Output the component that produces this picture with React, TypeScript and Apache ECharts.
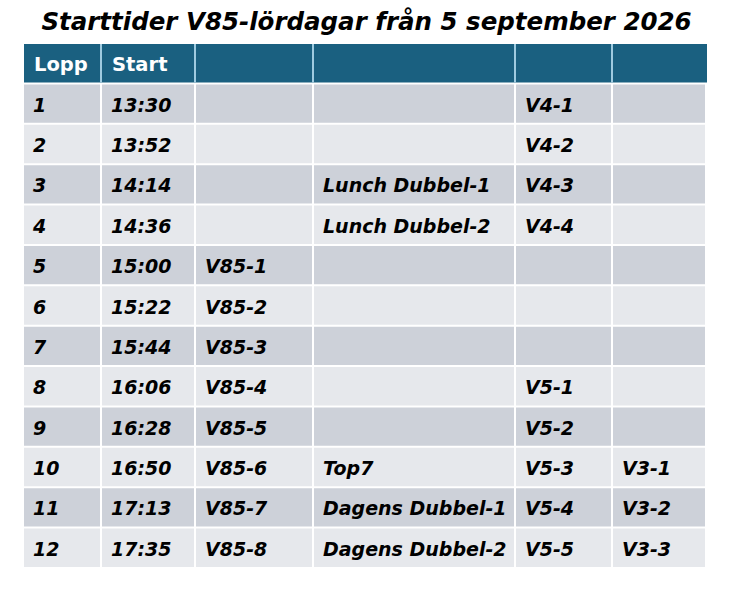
import React, { useEffect, useRef } from "react";
import * as echarts from "echarts";

const TITLE = "Starttider V85-lördagar från 5 september 2026";
const HEADERS = ["Lopp", "Start", "", "", "", ""];
const LOPP = ["1", "2", "3", "4", "5", "6", "7", "8", "9", "10", "11", "12"];
const START = ["13:30", "13:52", "14:14", "14:36", "15:00", "15:22", "15:44", "16:06", "16:28", "16:50", "17:13", "17:35"];
const V85 = ["", "", "", "", "V85-1", "V85-2", "V85-3", "V85-4", "V85-5", "V85-6", "V85-7", "V85-8"];
const DUBBEL = ["", "", "Lunch Dubbel-1", "Lunch Dubbel-2", "", "", "", "", "", "Top7", "Dagens Dubbel-1", "Dagens Dubbel-2"];
const V4V5 = ["V4-1", "V4-2", "V4-3", "V4-4", "", "", "", "V5-1", "V5-2", "V5-3", "V5-4", "V5-5"];
const V3 = ["", "", "", "", "", "", "", "", "", "V3-1", "V3-2", "V3-3"];

const COLUMNS = [LOPP, START, V85, DUBBEL, V4V5, V3];
// column edges (layout, in table pixels)
const EDGES = [0, 78, 172, 290, 492, 589, 683];

const HEADER_BG = "#1a6080";
const HEADER_SEP = "#9fcbe0";
const DARK = "#cdd1d9";
const LIGHT = "#e6e8ec";
const FONT = "'DejaVu Sans', sans-serif";

export default function App() {
  const ref = useRef<HTMLDivElement>(null);
  useEffect(() => {
    document.body.style.margin = "0";
    const chart = echarts.init(ref.current!, null, { renderer: "svg" });
    const rowKeys = ["header", ...LOPP];
    const data: number[][] = [];
    for (let r = 0; r < rowKeys.length; r++) {
      for (let c = 0; c < COLUMNS.length; c++) data.push([c, r]);
    }
    chart.setOption({
      animation: false,
      backgroundColor: "#ffffff",
      title: {
        text: TITLE,
        left: "center",
        top: 4,
        textStyle: {
          fontSize: 24.5,
          fontStyle: "italic",
          fontWeight: "bold",
          fontFamily: FONT,
          color: "#000000",
        },
      },
      grid: { left: 24, top: 44, width: 683, height: 525 },
      xAxis: { type: "value", min: 0, max: 683, show: false },
      yAxis: {
        type: "category",
        data: rowKeys,
        inverse: true,
        show: false,
        boundaryGap: true,
      },
      series: [
        {
          type: "custom",
          data,
          renderItem: (params: any, api: any) => {
            const c = api.value(0);
            const r = api.value(1);
            const p0 = api.coord([EDGES[c], r]);
            const p1 = api.coord([EDGES[c + 1], r]);
            const h = api.size([0, 1])[1];
            const x0 = p0[0];
            const w = p1[0] - p0[0];
            const y0 = p0[1] - h / 2;
            const isHeader = r === 0;
            const fill = isHeader ? HEADER_BG : r % 2 === 1 ? DARK : LIGHT;
            const text = isHeader ? HEADERS[c] : COLUMNS[c][r - 1];
            const children: any[] = [
              {
                type: "rect",
                shape: { x: x0, y: y0, width: isHeader ? w : w - 2, height: h - 2 },
                style: { fill },
              },
            ];
            if (isHeader && c < COLUMNS.length - 1) {
              children.push({
                type: "rect",
                shape: { x: x0 + w - 2, y: y0, width: 2, height: h - 2 },
                style: { fill: HEADER_SEP },
              });
            }
            if (text) {
              children.push({
                type: "text",
                style: {
                  text,
                  x: x0 + (isHeader ? 10 : 9),
                  y: y0 + (h - 2) / 2 + 1,
                  verticalAlign: "middle",
                  align: "left",
                  fill: isHeader ? "#ffffff" : "#000000",
                  fontSize: isHeader ? 19.5 : 19,
                  fontWeight: "bold",
                  fontStyle: isHeader ? "normal" : "italic",
                  fontFamily: FONT,
                },
              });
            }
            return { type: "group", children };
          },
        },
      ],
    });
    return () => chart.dispose();
  }, []);
  return <div ref={ref} style={{ width: 733, height: 591 }} />;
}
